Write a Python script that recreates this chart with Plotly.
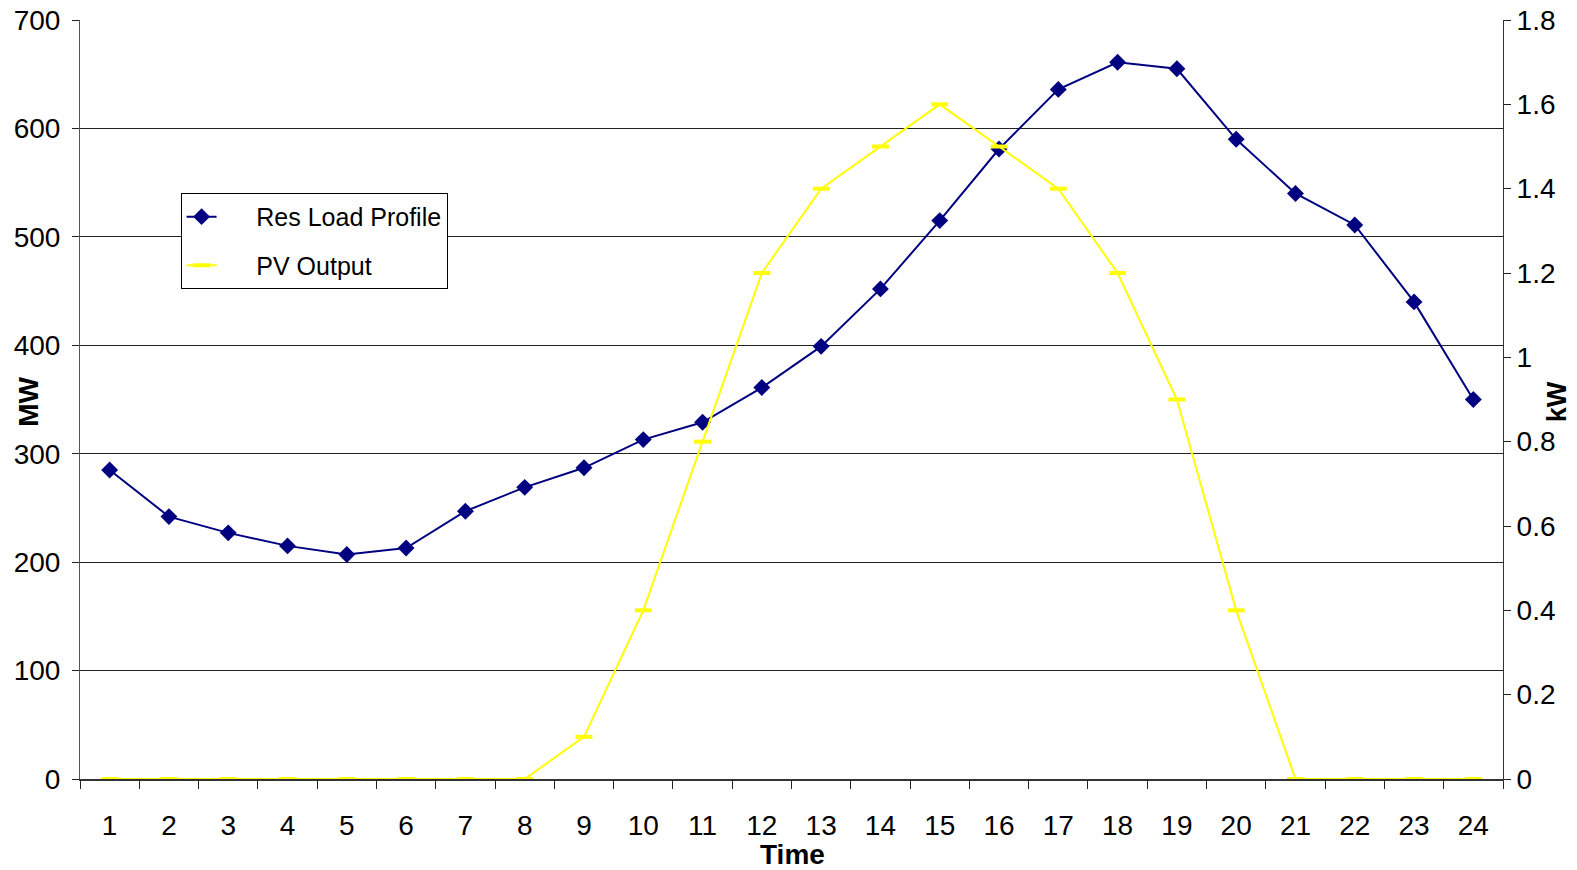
import plotly.graph_objects as go

hours = [str(h) for h in range(1, 25)]
res_load = [285, 242, 227, 215, 207, 213, 247, 269, 287, 313, 329, 361,
            399, 452, 515, 581, 636, 661, 655, 590, 540, 511, 440, 350]
pv_output = [0, 0, 0, 0, 0, 0, 0, 0, 0.1, 0.4, 0.8, 1.2,
             1.4, 1.5, 1.6, 1.5, 1.4, 1.2, 0.9, 0.4, 0, 0, 0, 0]
left_ticks = [0, 100, 200, 300, 400, 500, 600, 700]
right_ticks = [0, 0.2, 0.4, 0.6, 0.8, 1.0, 1.2, 1.4, 1.6, 1.8]
right_tick_text = ["0", "0.2", "0.4", "0.6", "0.8", "1", "1.2", "1.4", "1.6", "1.8"]

FONT = "Liberation Sans, Arial, sans-serif"
NB = "\u00a0"

# page offset and capture scale observed in rendering: screen = (fig + OFF) * S
OFF = 8
S = 0.9945
W, H = 1569, 856

def fx(px):
    return px / S - OFF

plot_l, plot_r, plot_t, plot_b = fx(80), fx(1495), fx(20), fx(775)

fig = go.Figure()
fig.add_trace(go.Scatter(
    x=hours, y=pv_output, name=NB * 5 + "PV Output", yaxis="y2",
    legendgroup="pv", legendrank=2,
    mode="lines+markers",
    line=dict(color="#FFFF00", width=2),
    marker=dict(symbol="line-ew", size=12, line=dict(color="#FFFF00", width=4)),
))
fig.add_trace(go.Scatter(
    x=hours, y=res_load, name=NB * 5 + "Res Load Profile", yaxis="y",
    legendgroup="load", legendrank=1,
    mode="lines+markers",
    line=dict(color="#000080", width=2),
    marker=dict(symbol="diamond", size=13, color="#000080"),
))

def px_x(px):
    return (fx(px) - plot_l) / (plot_r - plot_l)

def px_y(py):
    return (plot_b - fx(py)) / (plot_b - plot_t)

fig.update_layout(
    width=W, height=H,
    margin=dict(l=plot_l, r=W - plot_r, t=plot_t, b=H - plot_b),
    paper_bgcolor="white", plot_bgcolor="white",
    font=dict(family=FONT, size=28, color="black"),
    showlegend=True,
    legend=dict(
        x=px_x(180), y=px_y(192), xanchor="left", yanchor="top",
        bgcolor="white", bordercolor="black", borderwidth=1,
        font=dict(family=FONT, size=25, color="black"),
        traceorder="grouped", tracegroupgap=13,
    ),
    xaxis=dict(
        type="category", tickson="boundaries", range=[-0.5, 23.5],
        automargin=False,
        ticks="outside", ticklen=8, tickcolor="#222", tickwidth=1,
        showline=True, linecolor="#333", linewidth=2,
        showgrid=False, zeroline=False,
        tickfont=dict(size=28), ticklabelstandoff=20,
    ),
    yaxis=dict(
        range=[0, 700], tickvals=left_ticks, automargin=False,
        ticklabeloverflow="allow",
        ticks="outside", ticklen=7, tickcolor="#222",
        showline=True, linecolor="#555", linewidth=1,
        showgrid=True, gridcolor="#222", gridwidth=1,
        zeroline=False, tickfont=dict(size=28), ticklabelstandoff=6,
    ),
    yaxis2=dict(
        range=[0, 1.8], tickvals=right_ticks, ticktext=right_tick_text,
        overlaying="y", side="right", automargin=False,
        ticklabeloverflow="allow",
        ticks="outside", ticklen=7, tickcolor="#222",
        showline=True, linecolor="#333", linewidth=1,
        showgrid=False, zeroline=False, tickfont=dict(size=28),
    ),
    annotations=[
        dict(text="<b>MW</b>", x=px_x(28), y=px_y(400), xref="paper", yref="paper",
             xanchor="center", yanchor="middle",
             showarrow=False, textangle=-90, font=dict(size=28)),
        dict(text="<b>Time</b>", x=px_x(788), y=px_y(850), xref="paper", yref="paper",
             xanchor="center", yanchor="middle",
             showarrow=False, font=dict(size=28)),
        dict(text="<b>kW</b>", x=px_x(1549), y=px_y(400), xref="paper", yref="paper",
             xanchor="center", yanchor="middle",
             showarrow=False, textangle=-90, font=dict(size=27)),
    ],
)

fig.write_html("out.html")
